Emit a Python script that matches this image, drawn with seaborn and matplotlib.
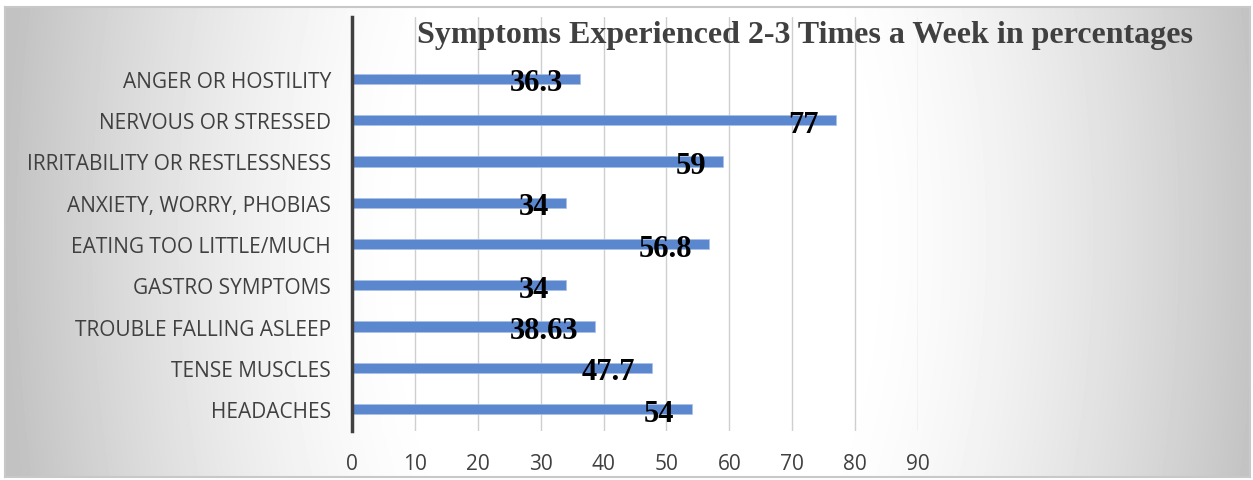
import numpy as np
import pandas as pd
import matplotlib
matplotlib.use("Agg")
import matplotlib.pyplot as plt
import seaborn as sns

symptoms = ["ANGER OR HOSTILITY", "NERVOUS OR STRESSED", "IRRITABILITY OR RESTLESSNESS",
            "ANXIETY, WORRY, PHOBIAS", "EATING TOO LITTLE/MUCH", "GASTRO SYMPTOMS",
            "TROUBLE FALLING ASLEEP", "TENSE MUSCLES", "HEADACHES"]
percent = [36.3, 77, 59, 34, 56.8, 34, 38.63, 47.7, 54]
xticks = [0, 10, 20, 30, 40, 50, 60, 70, 80, 90]

df = pd.DataFrame({"symptom": symptoms, "percent": percent})

sns.set_style("white")
W, H = 1253, 481
fig = plt.figure(figsize=(W / 100, H / 100), dpi=100)
fig.patch.set_facecolor("white")

# gradient background panel (white centre, grey sides)
bg = fig.add_axes([5 / W, 1 - 478 / H, 1245 / W, 470 / H])
yy, xx = np.mgrid[0:470, 0:1245]
d = np.sqrt(((xx - 630) / 630.0) ** 2 + ((yy - 230) / 1100.0) ** 2)
t = np.clip((d - 0.35) / 0.65, 0, 1)
shade = 1 - 0.24 * t ** 1.5
bg.imshow(shade, cmap="gray", vmin=0, vmax=1, aspect="auto", interpolation="bilinear")
bg.set_xticks([])
bg.set_yticks([])
for s in bg.spines.values():
    s.set_color("#c8c8c8")
    s.set_linewidth(1.5)

ax = fig.add_axes([352 / W, 1 - 432 / H, 566 / W, 414 / H])
ax.patch.set_alpha(0)
sns.barplot(data=df, x="percent", y="symptom", orient="h", color="#5b87cf",
            saturation=1, width=0.25, edgecolor="#a9c0e8", linewidth=0.5, ax=ax, zorder=3)

ax.set_xlim(0, 90)
ax.set_ylim(8.53, -1.5)
ax.set_xticks(xticks)
ax.grid(axis="x", color="#cfcfcf", linewidth=1, zorder=0)
ax.set_axisbelow(True)
for side in ["top", "right", "bottom"]:
    ax.spines[side].set_visible(False)
ax.spines["left"].set_color("#404040")
ax.spines["left"].set_linewidth(2.5)
ax.spines["left"].set_zorder(5)
ax.tick_params(axis="y", length=0, pad=15, labelsize=15, labelcolor="#404040")
ax.tick_params(axis="x", length=0, pad=16, labelsize=15, labelcolor="#404040")
for lab in ax.get_yticklabels() + ax.get_xticklabels():
    lab.set_family(["Open Sans", "DejaVu Sans"])
ax.set_xlabel("")
ax.set_ylabel("")

for i, v in enumerate(percent):
    ax.annotate(f"{v:g}", (v, i), xytext=(-17, -4), textcoords="offset pixels",
                ha="right", va="center", fontsize=22, fontweight="bold",
                family="Liberation Serif", color="black", zorder=6)

fig.text(805 / W, 1 - 35 / H, "Symptoms Experienced 2-3 Times a Week in percentages",
         ha="center", va="center", fontsize=23, fontweight="bold",
         family="Liberation Serif", color="#404040")

fig.savefig("out.png", dpi=100)
